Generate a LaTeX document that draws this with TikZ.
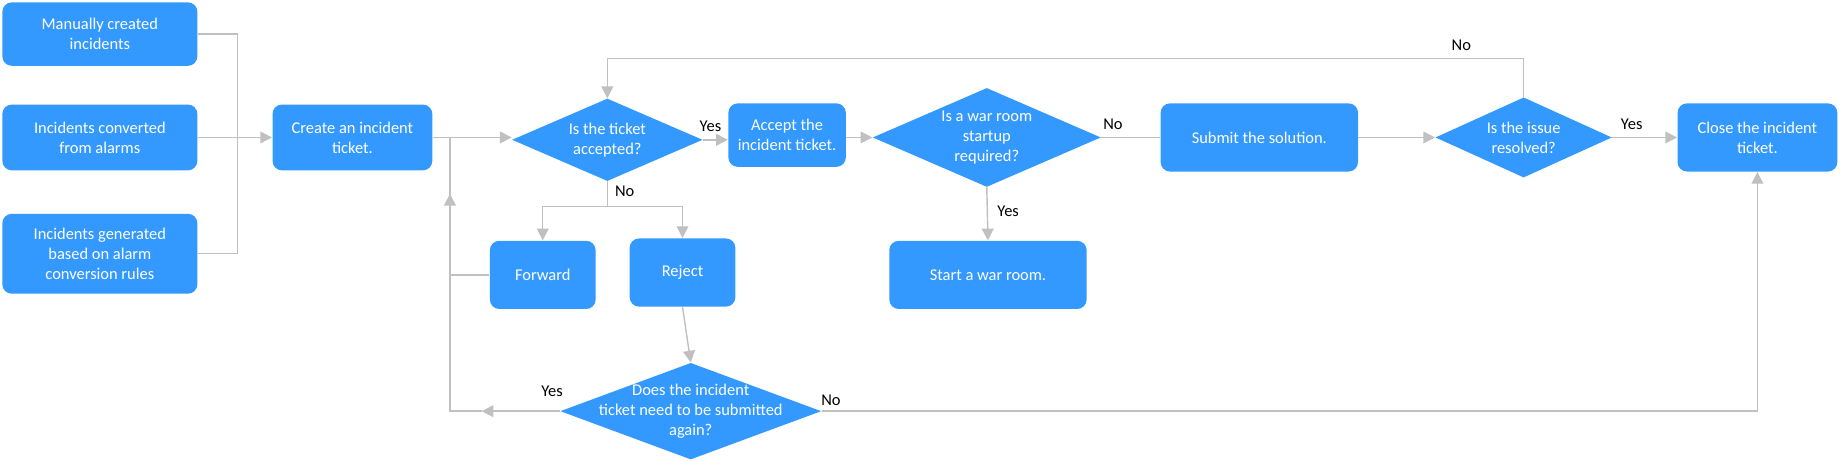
\documentclass[tikz,border=0pt]{standalone}
\usepackage{fontspec}
\setmainfont{Carlito}
\usetikzlibrary{arrows.meta}
\definecolor{boxblue}{HTML}{3399FF}
\definecolor{linegray}{HTML}{C0C0C0}
\begin{document}
\begin{tikzpicture}
  [x=0.5pt, y=-0.5pt, font=\fontsize{7}{8.5}\selectfont,
   box/.style={fill=boxblue, text=white, rounded corners=4pt, align=center, inner sep=1pt},
   decision/.style={text=white, align=center, inner sep=0pt,
     path picture={\fill[boxblue] (path picture bounding box.west) -- (path picture bounding box.north)
       -- (path picture bounding box.east) -- (path picture bounding box.south) -- cycle;}},
   link/.style={draw=linegray, line width=0.6pt},
   arrow/.style={link, -{Triangle[length=5pt,width=5pt]}},
   label/.style={text=black, inner sep=1pt}]
  \useasboundingbox (0,0) rectangle (1568,392);
  % sources
  \node[box, minimum width=83pt, minimum height=27pt] (manual) at (85,29) {Manually created\\incidents};
  \node[box, minimum width=83pt, minimum height=28pt] (converted) at (85,117) {Incidents converted\\from alarms};
  \node[box, minimum width=83pt, minimum height=34pt] (generated) at (85,216) {Incidents generated\\based on alarm\\conversion rules};
  % main line
  \node[box, minimum width=68pt, minimum height=28pt] (create) at (300,117) {Create an incident\\ticket.};
  \node[decision, minimum width=81pt, minimum height=35pt] (accepted) at (517,119) {Is the ticket\\accepted?};
  \node[box, minimum width=50pt, minimum height=27pt] (accept) at (670,115) {Accept the\\incident ticket.};
  \node[decision, minimum width=97pt, minimum height=42pt] (warq) at (840,117) {Is a war room\\startup\\required?};
  \node[box, minimum width=84pt, minimum height=29pt] (submit) at (1072,117) {Submit the solution.};
  \node[decision, minimum width=75pt, minimum height=34pt] (resolved) at (1297,117) {Is the issue\\resolved?};
  \node[box, minimum width=68pt, minimum height=29pt] (close) at (1496,117) {Close the incident\\ticket.};
  % lower part
  \node[box, minimum width=45pt, minimum height=29pt] (forward) at (462,234) {Forward};
  \node[box, minimum width=45pt, minimum height=29pt] (reject) at (581,232) {Reject};
  \node[box, minimum width=84pt, minimum height=29pt] (warroom) at (841,234) {Start a war room.};
  \node[decision, minimum width=111pt, minimum height=41pt] (again) at (588,350) {Does the incident\\ticket need to be submitted\\again?};
  % helper points
  \coordinate (merge) at (202,117);
  \coordinate (split) at (517,176);
  \coordinate (back) at (383,117);
  \coordinate (loop) at (517,50);
  % connectors
  \draw[link] (manual.east) -| (merge);
  \draw[link] (generated.east) -| (merge);
  \draw[arrow] (converted.east) -- (create.west);
  \draw[arrow] (create.east) -- (accepted.west |- create.east);
  \draw[arrow] (accepted.east) -- (accept.west |- accepted.east) node[label, pos=0.3, above=2pt] {Yes};
  \draw[arrow] (accept.east |- warq.west) -- (warq.west);
  \draw[link] (warq.east) -- (submit.west) node[label, pos=0.2, above=2pt] {No};
  \draw[arrow] (submit.east) -- (resolved.west);
  \draw[arrow] (resolved.east) -- (close.west) node[label, pos=0.3, above=2pt] {Yes};
  \draw[arrow] (resolved.north) |- (loop) node[label, pos=0.534, above=2pt] {No} -- (accepted.north);
  \draw[link] (accepted.south) -- (split) node[label, pos=0.4, right=2pt] {No};
  \draw[arrow] (split) -| (forward.north);
  \draw[arrow] (split) -| (reject.north);
  \draw[arrow] (warq.south) -- (warroom.north) node[label, pos=0.45, right=3pt] {Yes};
  \draw[arrow] (reject.south) -- (again.north);
  \draw[link] (forward.west) -| (back);
  \draw[arrow] (again.west) -- (410,350) node[label, pos=0.1, above=5pt] {Yes};
  \draw[arrow] (410,350) -| (383,165);
  \draw[arrow] (again.east) -| (close.south) node[label, pos=0.005, above=1pt] {No};
\end{tikzpicture}
\end{document}
